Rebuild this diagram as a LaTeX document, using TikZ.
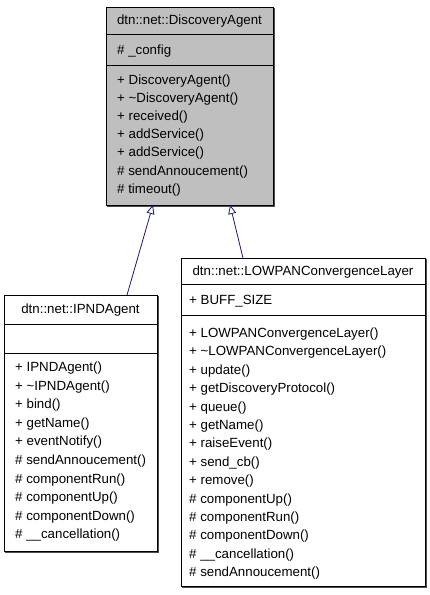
\documentclass[tikz,border=0pt]{standalone}
\usepackage{fontspec}
\setmainfont{Liberation Sans}
\usetikzlibrary{arrows.meta,calc}
\begin{document}
\begin{tikzpicture}[x=1pt,y=-1pt,
  box/.style={draw=black, line width=1pt, anchor=north west, inner sep=0pt, outer sep=0pt},
  divider/.style={draw=black, line width=1pt},
  shadowline/.style={draw=black!70, line width=1pt},
  txt/.style={anchor=base west, inner sep=0pt, font=\fontsize{13.3}{15}\selectfont},
  ttl/.style={anchor=base, inner sep=0pt, font=\fontsize{13.3}{15}\selectfont},
  inherit/.style={draw={rgb,255:red,25;green,25;blue,112}, line width=0.8pt, -{Triangle[open, length=9pt, width=8pt, fill=white]}}]
\useasboundingbox (0,0) rectangle (429,595);
% ---------- DiscoveryAgent ----------
\node[box, fill=black!25, minimum width=167pt, minimum height=198pt] (tb) at (106,7) {};
\draw[divider] ($(tb.north west)+(0,27)$) -- ($(tb.north east)+(0,27)$);
\draw[divider] ($(tb.north west)+(0,58)$) -- ($(tb.north east)+(0,58)$);
\draw[shadowline] ($(tb.north east)+(1,1)$) -- ($(tb.south east)+(1,1)$) -- ($(tb.south west)+(1,1)$);
\node[ttl] (tbt) at (189.5,24.5) {dtn::net::DiscoveryAgent};
\node[txt] (tba) at (117,54.5) {\# \_config};
\foreach \t [count=\i from 0] in {+ DiscoveryAgent(),+ \textasciitilde DiscoveryAgent(),+ received(),+ addService(),+ addService(),\# sendAnnoucement(),\# timeout()}
  \node[txt] (tbm\i) at (117,84.5+18.1*\i) {\t};
% ---------- IPNDAgent ----------
\node[box, fill=white, minimum width=153pt, minimum height=256pt] (lb) at (4,295) {};
\draw[divider] ($(lb.north west)+(0,29)$) -- ($(lb.north east)+(0,29)$);
\draw[divider] ($(lb.north west)+(0,58)$) -- ($(lb.north east)+(0,58)$);
\draw[shadowline] ($(lb.north east)+(1,1)$) -- ($(lb.south east)+(1,1)$) -- ($(lb.south west)+(1,1)$);
\node[ttl] (lbt) at (80.5,313.5) {dtn::net::IPNDAgent};
\foreach \t [count=\i from 0] in {+ IPNDAgent(),+ \textasciitilde IPNDAgent(),+ bind(),+ getName(),+ eventNotify(),\# sendAnnoucement(),\# componentRun(),\# componentUp(),\# componentDown(),\# \_\_cancellation()}
  \node[txt] (lbm\i) at (15,371.5+18.6*\i) {\t};
% ---------- LOWPANConvergenceLayer ----------
\node[box, fill=white, minimum width=244pt, minimum height=328pt] (rb) at (181,258) {};
\draw[divider] ($(rb.north west)+(0,26)$) -- ($(rb.north east)+(0,26)$);
\draw[divider] ($(rb.north west)+(0,57)$) -- ($(rb.north east)+(0,57)$);
\draw[shadowline] ($(rb.north east)+(1,1)$) -- ($(rb.south east)+(1,1)$) -- ($(rb.south west)+(1,1)$);
\node[ttl] (rbt) at (303,275.5) {dtn::net::LOWPANConvergenceLayer};
\node[txt] (rba) at (189,304.5) {+ BUFF\_SIZE};
\foreach \t [count=\i from 0] in {+ LOWPANConvergenceLayer(),+ \textasciitilde LOWPANConvergenceLayer(),+ update(),+ getDiscoveryProtocol(),+ queue(),+ getName(),+ raiseEvent(),+ send\_cb(),+ remove(),\# componentUp(),\# componentRun(),\# componentDown(),\# \_\_cancellation(),\# sendAnnoucement()}
  \node[txt] (rbm\i) at (189,337.5+18.4*\i) {\t};
% ---------- inheritance ----------
\draw[inherit] ($(lb.north west)!0.804!(lb.north east)$) -- ($(tb.south west)!0.281!(tb.south east)$);
\draw[inherit] ($(rb.north west)!0.254!(rb.north east)$) -- ($(tb.south west)!0.743!(tb.south east)$);
\end{tikzpicture}
\end{document}
